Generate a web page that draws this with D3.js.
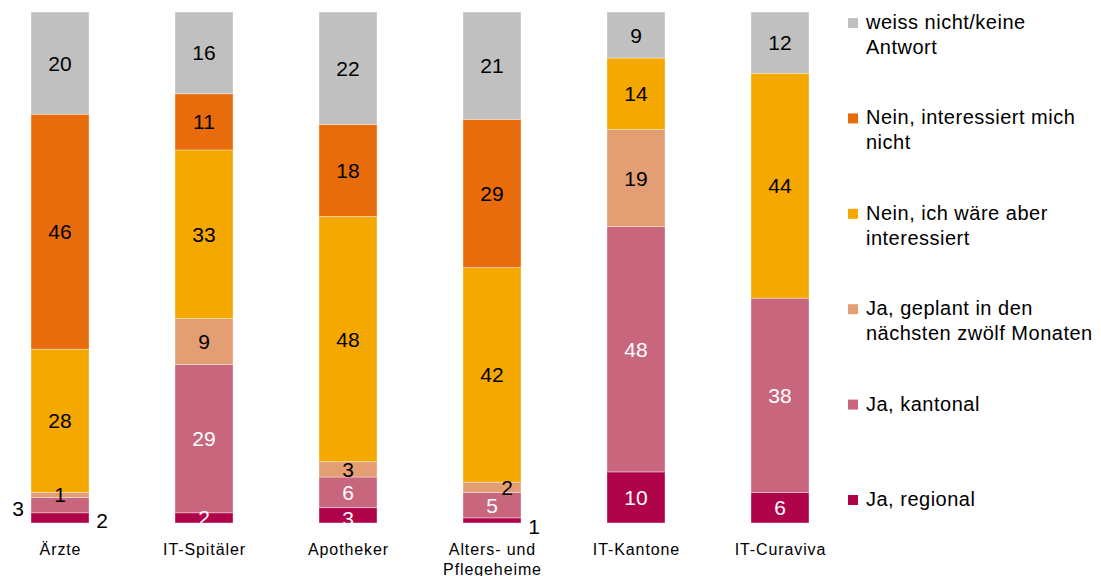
<!DOCTYPE html>
<html>
<head>
<meta charset="utf-8">
<script src="https://cdn.jsdelivr.net/npm/d3@7"></script>
<style>
  body { margin: 0; background: #fff; }
  svg text { font-family: "Liberation Sans", Arial, sans-serif; }
</style>
</head>
<body>
<div id="container"></div>
<script>
"use strict";

// categories (x axis), labels may wrap
const categories = ["Ärzte", "IT-Spitäler", "Apotheker", "Alters- und\nPflegeheime", "IT-Kantone", "IT-Curaviva"];

// series, bottom to top of each bar
const seriesNames = ["Ja, regional", "Ja, kantonal", "Ja, geplant in den\nnächsten zwölf Monaten",
                     "Nein, ich wäre aber\ninteressiert", "Nein, interessiert mich\nnicht", "weiss nicht/keine\nAntwort"];
const seriesColors = ["#b0044a", "#c8667e", "#e49e74", "#f5a800", "#e96c0c", "#c0c0c0"];

// values per series, one per category (percent)
const jaRegional   = [2, 2, 3, 1, 10, 6];
const jaKantonal   = [3, 29, 6, 5, 48, 38];
const jaGeplant    = [1, 9, 3, 2, 19, 0];
const neinInteress = [28, 33, 48, 42, 14, 44];
const neinNicht    = [46, 11, 18, 29, 0, 0];
const weissNicht   = [20, 16, 22, 21, 9, 12];

const values = [jaRegional, jaKantonal, jaGeplant, neinInteress, neinNicht, weissNicht];

// labels of tiny segments sit beside the bar: [category, series] -> [dx, dy]
const labelNudge = {
  "0-1": [-42, 3],
  "0-0": [42, 3],
  "3-2": [15, 0],
  "3-0": [42, 6],
  "2-0": [0, 3]
};

const svg = d3.select("#container")
  .append("svg")
  .attr("width", 1101)
  .attr("height", 576);

const x = d3.scaleBand()
  .domain(d3.range(categories.length))
  .range([31, 809])
  .paddingInner(0.597)
  .paddingOuter(0);

const y = d3.scaleLinear()
  .domain([0, 100])
  .range([523, 12]);

// build stack table
const table = categories.map((c, i) => {
  const row = { idx: i };
  values.forEach((arr, s) => { row["s" + s] = arr[i]; });
  return row;
});
const stack = d3.stack().keys(values.map((v, s) => "s" + s));
const layers = stack(table);

const g = svg.append("g");

layers.forEach((layer, s) => {
  g.selectAll(null)
    .data(layer.filter(d => d[1] - d[0] > 0))
    .enter()
    .append("rect")
      .attr("x", d => x(d.data.idx))
      .attr("y", d => y(d[1]))
      .attr("width", x.bandwidth())
      .attr("height", d => y(d[0]) - y(d[1]))
      .style("fill", seriesColors[s])
      .style("stroke", "rgba(255,255,255,0.45)")
      .style("stroke-width", 0.8);
});

// value labels
layers.forEach((layer, s) => {
  g.selectAll(null)
    .data(layer.filter(d => d[1] - d[0] > 0))
    .enter()
    .append("text")
      .attr("x", d => {
        const n = labelNudge[d.data.idx + "-" + s];
        return x(d.data.idx) + x.bandwidth() / 2 + (n ? n[0] : 0);
      })
      .attr("y", d => {
        const n = labelNudge[d.data.idx + "-" + s];
        return y((d[0] + d[1]) / 2) + (n ? n[1] : 0);
      })
      .attr("dy", "0.36em")
      .attr("text-anchor", "middle")
      .style("font-size", "21px")
      .style("fill", d => {
        const n = labelNudge[d.data.idx + "-" + s];
        return (s <= 1 && !(n && n[0] !== 0)) ? "#fff" : "#000";
      })
      .text(d => d[1] - d[0]);
});

// category axis labels
const axis = svg.append("g");
categories.forEach((c, i) => {
  const t = axis.append("text")
    .attr("y", 555)
    .attr("text-anchor", "middle")
    .style("font-size", "16px")
    .style("letter-spacing", "0.9px")
    .style("fill", "#000");
  c.split("\n").forEach((line, k) => {
    t.append("tspan")
      .attr("x", x(i) + x.bandwidth() / 2 + 0.5)
      .attr("dy", k === 0 ? 0 : 20)
      .text(line);
  });
});

// legend, top entry first
const legendY = d3.scaleLinear().domain([0, 5]).range([18, 495]);
const legend = svg.append("g");
d3.range(seriesNames.length).reverse().forEach((s, k) => {
  legend.append("rect")
    .attr("x", 848)
    .attr("y", legendY(k))
    .attr("width", 10)
    .attr("height", 10)
    .style("fill", seriesColors[s]);
  const t = legend.append("text")
    .attr("y", legendY(k) + 11)
    .style("font-size", "20px")
    .style("letter-spacing", "0.5px")
    .style("fill", "#000");
  seriesNames[s].split("\n").forEach((line, j) => {
    t.append("tspan")
      .attr("x", 866)
      .attr("dy", j === 0 ? 0 : 25)
      .text(line);
  });
});
</script>
</body>
</html>
